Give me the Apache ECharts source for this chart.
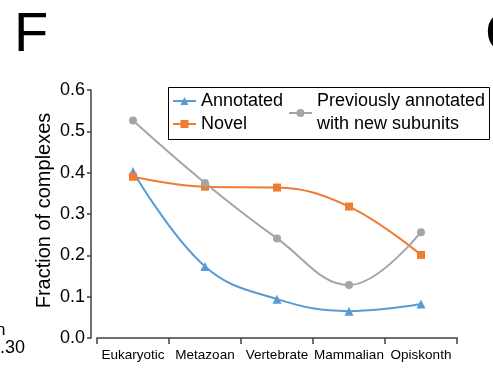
<!DOCTYPE html>
<html>
<head>
<meta charset="utf-8">
<script src="https://cdn.jsdelivr.net/npm/echarts@6/dist/echarts.min.js"></script>
<style>
  html, body { margin: 0; padding: 0; background: #fff; }
  #chart { width: 493px; height: 369px; }
</style>
</head>
<body>
<div id="chart"></div>
<script>
// Age groups of the complexes
const categories = ['Eukaryotic', 'Metazoan', 'Vertebrate', 'Mammalian', 'Opiskonth'];

// Fraction of complexes per group
const annotated = [0.403, 0.173, 0.094, 0.065, 0.082];
const novel = [0.390, 0.366, 0.364, 0.318, 0.201];
const prevWithNew = [0.526, 0.375, 0.241, 0.128, 0.256];

// Y axis ticks
const yTicks = [0.0, 0.1, 0.2, 0.3, 0.4, 0.5, 0.6];

const FONT = 'Liberation Sans, Arial, sans-serif';
const AXIS_COLOR = '#404040';

const chart = echarts.init(document.getElementById('chart'), null, { renderer: 'canvas' });

const seriesDefs = [
  { name: 'Annotated', data: annotated, color: '#5B9BD5', symbol: 'triangle', size: 9 },
  { name: 'Novel', data: novel, color: '#ED7D31', symbol: 'rect', size: 8 },
  { name: 'Previously annotated with new subunits', data: prevWithNew, color: '#A5A5A5', symbol: 'circle', size: 8 }
];

chart.setOption({
  animation: false,
  backgroundColor: '#fff',
  grid: { left: 97, right: 36, top: 90, bottom: 31, containLabel: false },
  xAxis: {
    type: 'category',
    data: categories,
    boundaryGap: true,
    axisLine: { show: true, lineStyle: { color: AXIS_COLOR, width: 1.5 } },
    axisTick: { show: true, inside: false, length: 6, lineStyle: { color: AXIS_COLOR, width: 1.5 } },
    axisLabel: { color: '#000', fontFamily: FONT, fontSize: 13.5, margin: 10, interval: 0 },
    splitLine: { show: false }
  },
  yAxis: {
    type: 'value',
    min: yTicks[0],
    max: yTicks[yTicks.length - 1],
    interval: 0.1,
    offset: 6,
    name: 'Fraction of complexes',
    nameLocation: 'middle',
    nameGap: 37,
    nameMoveOverlap: false,
    nameTextStyle: { color: '#000', fontFamily: FONT, fontSize: 20, padding: [0, 0, 0, 7] },
    axisLine: { show: true, lineStyle: { color: AXIS_COLOR, width: 1.5 } },
    axisTick: { show: true, inside: false, length: 4, lineStyle: { color: AXIS_COLOR, width: 1.5 } },
    axisLabel: {
      color: '#000', fontFamily: FONT, fontSize: 18, margin: 6,
      formatter: v => v.toFixed(1)
    },
    splitLine: { show: false }
  },
  legend: [
    {
      data: ['Annotated', 'Novel'],
      orient: 'vertical',
      left: 172,
      top: 92,
      padding: 0,
      itemGap: 5,
      itemWidth: 23,
      itemHeight: 10,
      textStyle: { color: '#000', fontFamily: FONT, fontSize: 18 }
    },
    {
      data: ['Previously annotated with new subunits'],
      orient: 'vertical',
      left: 288,
      top: 90,
      padding: 0,
      itemWidth: 23,
      itemHeight: 10,
      formatter: name => name.replace(' with ', '\nwith '),
      textStyle: { color: '#000', fontFamily: FONT, fontSize: 18, lineHeight: 23 }
    }
  ],
  graphic: [
    {
      type: 'rect',
      shape: { x: 168.5, y: 87.5, width: 321, height: 52 },
      style: { fill: 'none', stroke: '#000', lineWidth: 1 },
      z: 10
    },
    {
      type: 'text', left: 14, top: 8,
      style: { text: 'F', fill: '#000', font: '56px ' + FONT }
    },
    {
      type: 'text', left: 485, top: 8,
      style: { text: 'G', fill: '#000', font: '56px ' + FONT }
    },
    {
      type: 'text', left: -4, top: 322,
      style: { text: 'n', fill: '#000', font: '17px ' + FONT }
    },
    {
      type: 'text', left: 0, top: 339,
      style: { text: '.30', fill: '#000', font: '18px ' + FONT }
    }
  ],
  series: seriesDefs.map(s => ({
    name: s.name,
    type: 'line',
    data: s.data,
    smooth: 0.4,
    symbol: s.symbol,
    symbolSize: s.size,
    showSymbol: true,
    lineStyle: { color: s.color, width: 2 },
    itemStyle: { color: s.color },
    emphasis: { disabled: true }
  }))
});
</script>
</body>
</html>
